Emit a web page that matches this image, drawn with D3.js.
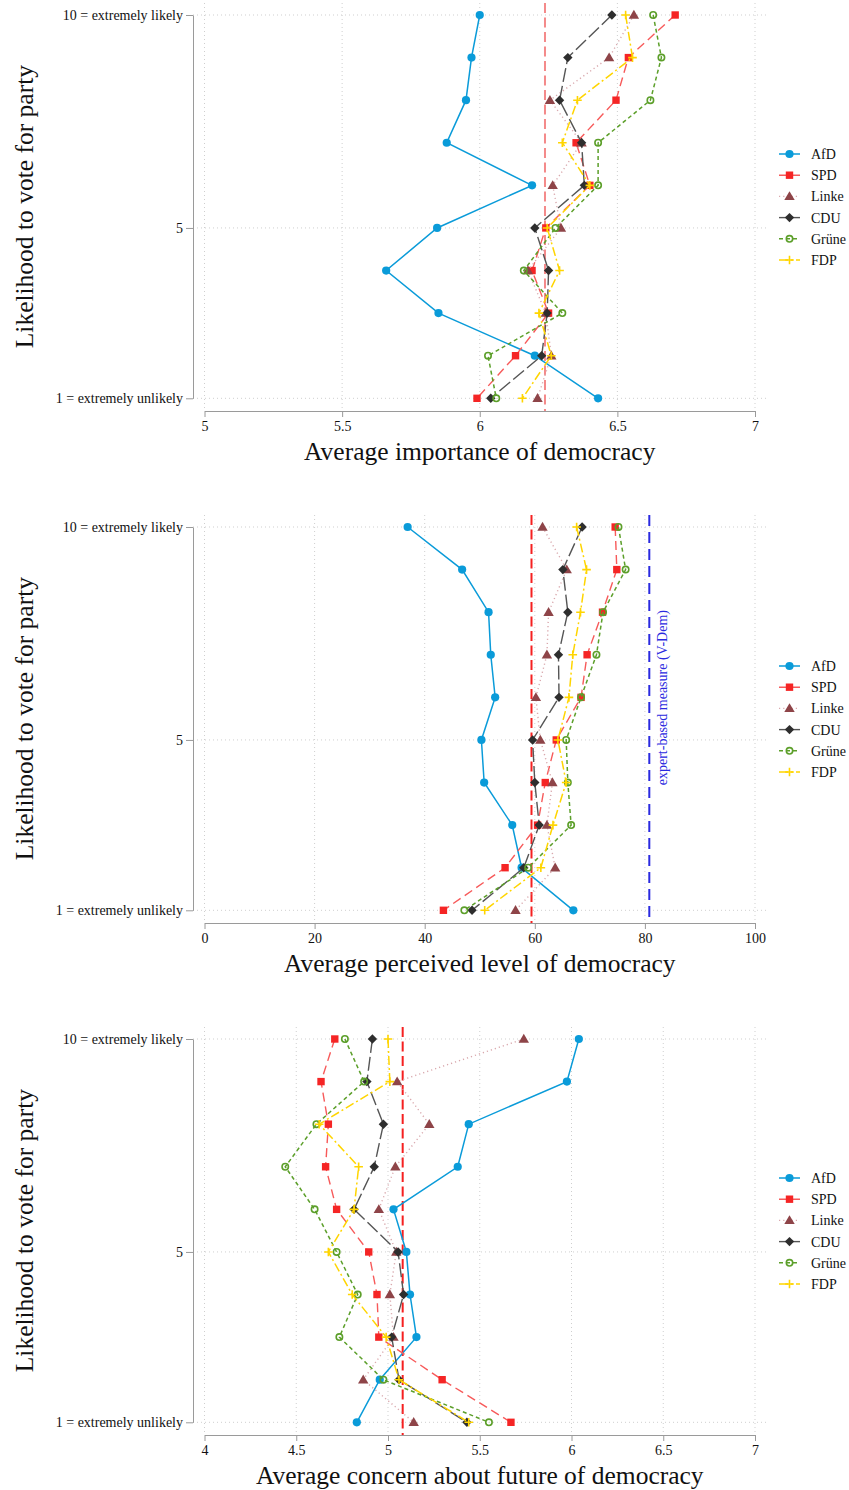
<!DOCTYPE html>
<html>
<head>
<meta charset="utf-8">
<script src="https://cdn.jsdelivr.net/npm/d3@7/dist/d3.min.js"></script>
<style>
  html, body { margin: 0; padding: 0; background: #fff; }
  svg { display: block; font-family: "Liberation Serif", "Times New Roman", serif; }
</style>
</head>
<body>
<svg id="chart" width="849" height="1490"></svg>
<script>
// ---------- DATA ----------
const likelihood = [10, 9, 8, 7, 6, 5, 4, 3, 2, 1];
const parties = ["AfD", "SPD", "Linke", "CDU", "Grüne", "FDP"];
const yTickValues = [1, 5, 10];
const yTickLabels = ["1 = extremely unlikely", "5", "10 = extremely likely"];

// Panel 1: average importance of democracy
const importanceAfD   = [6.00, 5.97, 5.95, 5.88, 6.19, 5.845, 5.66, 5.85, 6.20, 6.43];
const importanceSPD   = [6.71, 6.54, 6.495, 6.35, 6.40, 6.24, 6.19, 6.25, 6.13, 5.99];
const importanceLinke = [6.56, 6.47, 6.255, 6.37, 6.265, 6.295, 6.175, 6.24, 6.26, 6.21];
const importanceCDU   = [6.48, 6.32, 6.29, 6.37, 6.38, 6.20, 6.25, 6.245, 6.225, 6.04];
const importanceGrune = [6.63, 6.66, 6.62, 6.43, 6.43, 6.275, 6.16, 6.30, 6.03, 6.06];
const importanceFDP   = [6.53, 6.555, 6.355, 6.30, 6.40, 6.245, 6.29, 6.215, 6.26, 6.155];
const importanceMean  = 6.237;
const importanceTicks = [5, 5.5, 6, 6.5, 7];

// Panel 2: average perceived level of democracy
const perceivedAfD   = [36.9, 46.8, 51.6, 52.0, 52.8, 50.3, 50.8, 55.9, 57.6, 67.0];
const perceivedSPD   = [74.6, 74.9, 72.3, 69.5, 68.4, 63.9, 61.9, 60.5, 54.6, 43.4];
const perceivedLinke = [61.4, 65.8, 62.5, 62.2, 60.2, 61.0, 63.2, 62.2, 63.7, 56.5];
const perceivedCDU   = [68.6, 65.1, 66.0, 64.3, 64.4, 59.6, 60.0, 60.8, 58.0, 48.6];
const perceivedGrune = [75.2, 76.5, 72.4, 71.2, 68.4, 65.7, 66.0, 66.6, 58.8, 47.2];
const perceivedFDP   = [67.6, 69.4, 68.3, 66.9, 66.2, 64.2, 65.7, 63.3, 61.1, 50.9];
const perceivedMean  = 59.4;
const vdemValue      = 80.8;
const perceivedTicks = [0, 20, 40, 60, 80, 100];

// Panel 3: average concern about future of democracy
const concernAfD   = [6.04, 5.975, 5.44, 5.38, 5.03, 5.10, 5.12, 5.155, 4.955, 4.83];
const concernSPD   = [4.71, 4.635, 4.675, 4.66, 4.72, 4.895, 4.94, 4.95, 5.295, 5.67];
const concernLinke = [5.74, 5.05, 5.225, 5.04, 4.95, 5.045, 5.01, 5.03, 4.865, 5.14];
const concernCDU   = [4.915, 4.885, 4.975, 4.925, 4.815, 5.055, 5.085, 5.02, 5.06, 5.43];
const concernGrune = [4.765, 4.87, 4.61, 4.44, 4.60, 4.72, 4.835, 4.735, 4.975, 5.55];
const concernFDP   = [5.00, 5.01, 4.625, 4.84, 4.815, 4.675, 4.805, 4.99, 5.06, 5.44];
const concernMean  = 5.08;
const concernTicks = [4, 4.5, 5, 5.5, 6, 6.5, 7];

// ---------- STYLES ----------
const styles = {
  "AfD":   { line: "#0a9bd9", marker: "#0a9bd9", dash: null,      lw: 1.5, shape: "circle" },
  "SPD":   { line: "#f75a5a", marker: "#f52525", dash: "9,5",     lw: 1.4, shape: "square" },
  "Linke": { line: "#d9a8ad", marker: "#8e4448", dash: "1.2,3",   lw: 1.4, shape: "triangle" },
  "CDU":   { line: "#555555", marker: "#2e2e2e", dash: "14,4",    lw: 1.4, shape: "diamond" },
  "Grüne": { line: "#5c9f2a", marker: "#5c9f2a", dash: "4,3",     lw: 1.5, shape: "ocircle" },
  "FDP":   { line: "#ffd500", marker: "#ffd500", dash: "9,3,2,3", lw: 1.5, shape: "plus" }
};

const panels = [
  { offset: 0,    title: "Average importance of democracy", domain: [5, 7], ticks: importanceTicks,
    series: [importanceAfD, importanceSPD, importanceLinke, importanceCDU, importanceGrune, importanceFDP],
    mean: importanceMean, meanColor: "#f48a8a", vdem: null },
  { offset: 512,  title: "Average perceived level of democracy", domain: [0, 100], ticks: perceivedTicks,
    series: [perceivedAfD, perceivedSPD, perceivedLinke, perceivedCDU, perceivedGrune, perceivedFDP],
    mean: perceivedMean, meanColor: "#f52020", vdem: vdemValue },
  { offset: 1024, title: "Average concern about future of democracy", domain: [4, 7], ticks: concernTicks,
    series: [concernAfD, concernSPD, concernLinke, concernCDU, concernGrune, concernFDP],
    mean: concernMean, meanColor: "#f52020", vdem: null }
];

// ---------- LAYOUT ----------
const frameLeft = 193, frameRight = 766;
const xLeft = 204.5, xRight = 755;
const yTopVal = 15, yBotVal = 398.3;
const frameTop = 3, frameBottom = 411;
const gridColor = "#cfcfcf";
const axisColor = "#9a9a9a";

const svg = d3.select("#chart");

function markerPath(shape) {
  switch (shape) {
    case "square":   return "M-3.7,-3.7H3.7V3.7H-3.7Z";
    case "triangle": return "M0,-5.2L5.2,3.7L-5.2,3.7Z";
    case "diamond":  return "M0,-4.7L4.7,0L0,4.7L-4.7,0Z";
    case "plus":     return "M-4.3,0H4.3M0,-4.3V4.3";
    default: return null;
  }
}

function drawMarker(g, shape, st, cx, cy) {
  if (shape === "circle") {
    g.append("circle").attr("cx", cx).attr("cy", cy).attr("r", 4.1).attr("fill", st.marker);
  } else if (shape === "ocircle") {
    g.append("circle").attr("cx", cx).attr("cy", cy).attr("r", 3.2)
      .attr("fill", "none").attr("stroke", st.marker).attr("stroke-width", 1.6);
  } else if (shape === "plus") {
    g.append("path").attr("d", markerPath(shape)).attr("transform", `translate(${cx},${cy})`)
      .attr("fill", "none").attr("stroke", st.marker).attr("stroke-width", 1.6);
  } else {
    g.append("path").attr("d", markerPath(shape)).attr("transform", `translate(${cx},${cy})`)
      .attr("fill", st.marker);
  }
}

panels.forEach(p => {
  const g = svg.append("g").attr("transform", `translate(0,${p.offset})`);
  const x = d3.scaleLinear().domain(p.domain).range([xLeft, xRight]);
  const y = d3.scaleLinear().domain([1, 10]).range([yBotVal, yTopVal]);

  // grid lines
  g.append("g").selectAll("line").data(yTickValues).join("line")
    .attr("x1", frameLeft).attr("x2", frameRight)
    .attr("y1", d => y(d)).attr("y2", d => y(d))
    .attr("stroke", gridColor).attr("stroke-width", 1).attr("stroke-dasharray", "1,3");
  g.append("g").selectAll("line").data(p.ticks).join("line")
    .attr("x1", d => x(d)).attr("x2", d => x(d))
    .attr("y1", frameTop).attr("y2", frameBottom)
    .attr("stroke", gridColor).attr("stroke-width", 1).attr("stroke-dasharray", "1,3");

  // reference lines
  g.append("line")
    .attr("x1", x(p.mean)).attr("x2", x(p.mean))
    .attr("y1", frameTop).attr("y2", frameBottom)
    .attr("stroke", p.meanColor).attr("stroke-width", 2).attr("stroke-dasharray", "10,4.5");
  if (p.vdem !== null) {
    g.append("line")
      .attr("x1", x(p.vdem)).attr("x2", x(p.vdem))
      .attr("y1", frameTop).attr("y2", frameBottom)
      .attr("stroke", "#2a2ae0").attr("stroke-width", 2).attr("stroke-dasharray", "11,6");
    g.append("text")
      .attr("transform", `translate(${x(p.vdem) + 18},${(y(10) + y(1)) / 2 - 21}) rotate(-90)`)
      .attr("text-anchor", "middle").attr("font-size", 14).attr("fill", "#2a2ae0")
      .text("expert-based measure (V-Dem)");
  }

  // axes
  const xAxis = d3.axisBottom(x).tickValues(p.ticks).tickSize(6).tickSizeOuter(0).tickPadding(4)
    .tickFormat(d3.format("~g"));
  const xg = g.append("g").attr("transform", `translate(0,${frameBottom})`).call(xAxis);
  xg.select(".domain").attr("stroke", axisColor);
  xg.selectAll(".tick line").attr("stroke", axisColor);
  xg.selectAll(".tick text").attr("font-size", 14).attr("fill", "#111")
    .attr("font-family", "Liberation Serif, serif");

  const yAxis = d3.axisLeft(y).tickValues(yTickValues).tickSize(7).tickSizeOuter(0).tickPadding(3)
    .tickFormat(d => yTickLabels[yTickValues.indexOf(d)]);
  const yg = g.append("g").attr("transform", `translate(${frameLeft},0)`).call(yAxis);
  yg.select(".domain").attr("stroke", axisColor);
  yg.selectAll(".tick line").attr("stroke", axisColor);
  yg.selectAll(".tick text").attr("font-size", 14).attr("fill", "#111")
    .attr("font-family", "Liberation Serif, serif");

  // titles
  g.append("text").attr("x", (xLeft + xRight) / 2).attr("y", 460)
    .attr("text-anchor", "middle").attr("font-size", 25.5).attr("fill", "#111").text(p.title);
  g.append("text").attr("transform", `translate(33,${(y(10) + y(1)) / 2}) rotate(-90)`)
    .attr("text-anchor", "middle").attr("font-size", 25.5).attr("fill", "#111")
    .text("Likelihood to vote for party");

  // series
  parties.forEach((party, i) => {
    const st = styles[party];
    const vals = p.series[i];
    const pts = likelihood.map((l, j) => [x(vals[j]), y(l)]);
    const sg = g.append("g");
    sg.append("path").attr("d", d3.line()(pts))
      .attr("fill", "none").attr("stroke", st.line).attr("stroke-width", st.lw)
      .attr("stroke-dasharray", st.dash);
    pts.forEach(pt => drawMarker(sg, st.shape, st, pt[0], pt[1]));
  });

  // legend
  const lg = g.append("g");
  parties.forEach((party, i) => {
    const st = styles[party];
    const ly = 154 + i * 21.2;
    lg.append("line").attr("x1", 779).attr("x2", 800).attr("y1", ly).attr("y2", ly)
      .attr("stroke", st.line).attr("stroke-width", st.lw).attr("stroke-dasharray", party === "CDU" ? null : st.dash);
    drawMarker(lg, st.shape, st, 789.5, ly);
    lg.append("text").attr("x", 811).attr("y", ly + 5).attr("font-size", 14).attr("fill", "#111").text(party);
  });
});
</script>
</body>
</html>
